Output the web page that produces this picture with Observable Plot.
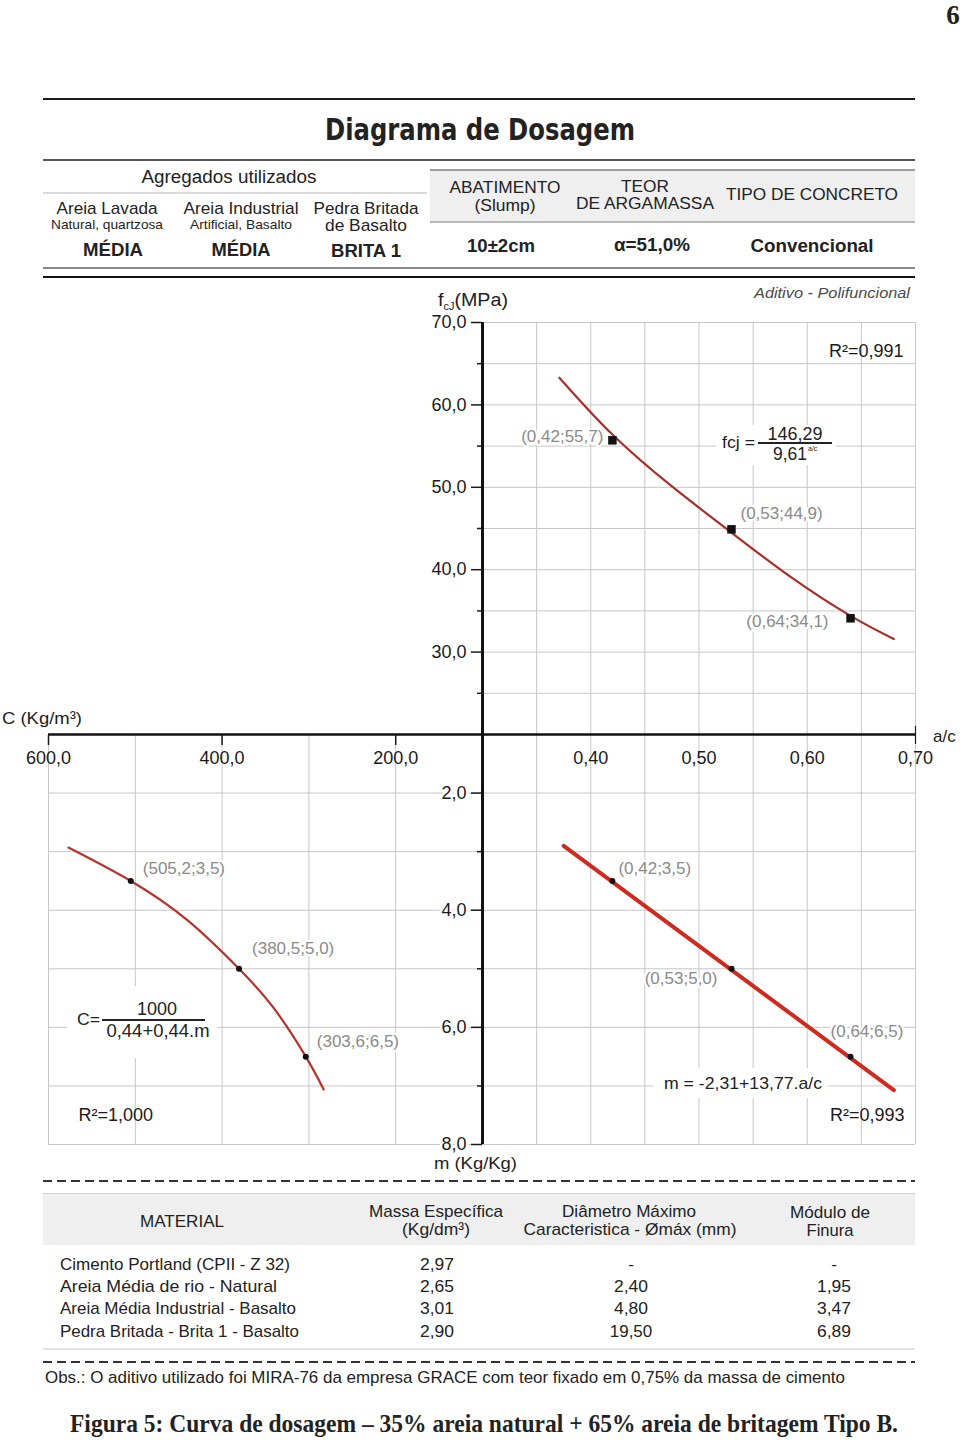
<!DOCTYPE html>
<html><head><meta charset="utf-8">
<script src="https://cdn.jsdelivr.net/npm/d3@7"></script>
<script src="https://cdn.jsdelivr.net/npm/@observablehq/plot@0.6"></script>
<style>
body{margin:0;background:#fff;}
#page{position:relative;width:960px;height:1440px;overflow:hidden;background:#fff;color:#222;}
.t{position:absolute;white-space:nowrap;line-height:1;}
</style></head><body><div id="page"></div><script>
// ---------------- data ----------------
const acTicks = [0.40, 0.50, 0.60, 0.70];
const acGrid = [0.35, 0.40, 0.45, 0.50, 0.55, 0.60, 0.65, 0.70];
const fcjMajor = [30, 40, 50, 60, 70];
const fcjMinor = [25, 35, 45, 55, 65];
const fcjGrid = [25, 30, 35, 40, 45, 50, 55, 60, 65, 70];
const mMajor = [2, 4, 6, 8];
const mMinor = [3, 5, 7];
const mGrid = [2, 3, 4, 5, 6, 7, 8];
const cTicks = [600, 400, 200];
const cGrid = [600, 500, 400, 300, 200];

const fcjPoints = [{ac: 0.42, fcj: 55.7}, {ac: 0.53, fcj: 44.9}, {ac: 0.64, fcj: 34.1}];
const fcjCurve = [
  {ac: 0.371, fcj: 63.3}, {ac: 0.42, fcj: 56.4}, {ac: 0.475, fcj: 50.1}, {ac: 0.53, fcj: 44.5},
  {ac: 0.585, fcj: 39.1}, {ac: 0.64, fcj: 34.4}, {ac: 0.68, fcj: 31.6}
];
const mPoints = [{ac: 0.42, m: 3.5}, {ac: 0.53, m: 5.0}, {ac: 0.64, m: 6.5}];
const mLine = [{ac: 0.375, m: 2.9}, {ac: 0.68, m: 7.07}];
const cPoints = [{c: 505.2, m: 3.5}, {c: 380.5, m: 5.0}, {c: 303.6, m: 6.5}];
const cCurve = [
  {c: 577, m: 2.93}, {c: 505.2, m: 3.5}, {c: 440, m: 4.17}, {c: 380.5, m: 5.0},
  {c: 340, m: 5.68}, {c: 303.6, m: 6.5}, {c: 283, m: 7.06}
];
const r2Labels = ["R²=0,991", "R²=0,993", "R²=1,000"];

const materials = ["Cimento Portland (CPII - Z 32)", "Areia Média de rio   - Natural", "Areia Média Industrial - Basalto", "Pedra Britada - Brita 1 - Basalto"];
const massa = ["2,97", "2,65", "3,01", "2,90"];
const diametro = ["-", "2,40", "4,80", "19,50"];
const finura = ["-", "1,95", "3,47", "6,89"];

// ---------------- helpers ----------------
const NARROW = '"Liberation Sans Narrow","Arial Narrow","Liberation Sans",Arial,sans-serif';
const SANS = '"Liberation Sans",Arial,Helvetica,sans-serif';
const SERIF = '"Liberation Serif","Times New Roman",serif';
const fmt1 = d => d.toFixed(1).replace(".", ",");
const fmt2 = d => d.toFixed(2).replace(".", ",");
const page = document.getElementById("page");

function txt(s, x, y, o = {}) {
  const el = document.createElement("div");
  el.className = "t";
  if (o.html) el.innerHTML = s; else el.textContent = s;
  el.style.left = x + "px"; el.style.top = y + "px";
  el.style.fontSize = (o.size || 16) + "px";
  el.style.fontFamily = o.font || NARROW;
  el.style.fontWeight = o.bold ? "bold" : "normal";
  if (o.italic) el.style.fontStyle = "italic";
  el.style.color = o.color || "#222";
  page.appendChild(el);
  const a = o.anchor || "middle";
  let sx = 1;
  if (o.w) sx = o.w / el.getBoundingClientRect().width;
  el.style.transformOrigin = a === "middle" ? "50% 50%" : a === "end" ? "100% 50%" : "0 50%";
  el.style.transform = `translate(${a === "middle" ? "-50%" : a === "end" ? "-100%" : "0"},-50%) scaleX(${sx})`;
  return el;
}
function box(x, y, w, h, st = {}) {
  const el = document.createElement("div");
  Object.assign(el.style, {position: "absolute", boxSizing: "border-box", left: x + "px", top: y + "px", width: w + "px", height: h + "px"}, st);
  page.appendChild(el);
  return el;
}
function hline(x1, x2, y, color, t) { return box(x1, y - t / 2, x2 - x1, t, {background: color}); }
function dline(x1, x2, y, color, t) {
  return box(x1, y - t / 2, x2 - x1, t, {background: `repeating-linear-gradient(90deg, ${color} 0 9px, transparent 9px 14px)`});
}
function place(svg, left, top) {
  svg.style.position = "absolute"; svg.style.left = left + "px"; svg.style.top = top + "px";
  page.appendChild(svg);
}
const plotStyle = {background: "transparent", overflow: "visible", fontFamily: SANS, fontSize: "18px", color: "#1a1a1a"};
const GRID = {stroke: "#c6c6c6", strokeOpacity: 1, strokeWidth: 1};
const PT = {fill: "#8a8a8a", fontSize: 17, stroke: "white", strokeWidth: 4, paintOrder: "stroke"};

// ---------------- header ----------------
txt("6", 953, 15, {font: SERIF, bold: true, size: 27});
hline(43, 915, 99, "#1a1a1a", 2.5);
txt("Diagrama de Dosagem", 480, 130, {font: '"DejaVu Sans Condensed","DejaVu Sans",' + NARROW, size: 30, bold: true, w: 310});
hline(43, 915, 160, "#555", 2.5);
txt("Agregados utilizados", 229, 177, {size: 18, w: 175});
hline(43, 427, 193, "#dadada", 2);
txt("Areia Lavada", 107, 208, {size: 17, w: 101});
txt("Natural, quartzosa", 107, 224, {size: 13, w: 112});
txt("MÉDIA", 113, 250, {size: 18, bold: true, w: 60});
txt("Areia Industrial", 241, 208, {size: 17, w: 115});
txt("Artificial, Basalto", 241, 224, {size: 13, w: 102});
txt("MÉDIA", 241, 250, {size: 18, bold: true, w: 59});
txt("Pedra Britada", 366, 208, {size: 17, w: 105});
txt("de Basalto", 366, 225, {size: 17, w: 82});
txt("BRITA 1", 366, 251, {size: 18, bold: true, w: 70});
box(430, 169, 485, 54, {background: "#efefef", borderTop: "2px solid #9c9c9c", borderBottom: "2px solid #b8b8b8"});
txt("ABATIMENTO", 505, 187, {size: 17, w: 111});
txt("(Slump)", 505, 205, {size: 17, w: 61});
txt("TEOR", 645, 186, {size: 17, w: 48});
txt("DE ARGAMASSA", 645, 203, {size: 17, w: 138});
txt("TIPO DE CONCRETO", 812, 194, {size: 17, w: 172});
txt("10±2cm", 501, 246, {size: 18, bold: true, w: 68});
txt("α=51,0%", 652, 245, {size: 18, bold: true, w: 76});
txt("Convencional", 812, 246, {size: 18, bold: true, w: 123});
hline(43, 915, 268, "#8a8a8a", 2);
hline(43, 915, 277, "#111", 2.5);

// ---------------- chart: bottom-left (C vs m) ----------------
const plotC = Plot.plot({
  width: 490, height: 490, marginLeft: 48, marginRight: 8, marginTop: 34, marginBottom: 46,
  x: {type: "linear", domain: [600, 100], axis: null},
  y: {domain: [1, 8], reverse: true, axis: null},
  style: plotStyle,
  marks: [
    Plot.gridX(cGrid, GRID),
    Plot.gridY(mGrid, GRID),
    Plot.text(cTicks, {x: d => d, frameAnchor: "top", lineAnchor: "middle", dy: 24, text: fmt1, fontSize: 18, fill: "#1a1a1a"}),
    Plot.ruleY([1], {stroke: "#111", strokeWidth: 2.5}),
    Plot.axisX(cTicks, {anchor: "top", tickSize: 10, dy: 10, tickFormat: () => "", label: null, strokeWidth: 1.5}),
    Plot.text([cPoints[0]], {x: "c", y: "m", text: d => `(${fmt1(d.c)};${fmt1(d.m)})`, textAnchor: "start", dx: 12, dy: -12, ...PT}),
    Plot.text([cPoints[1]], {x: "c", y: "m", text: d => `(${fmt1(d.c)};${fmt1(d.m)})`, textAnchor: "start", dx: 13, dy: -20, ...PT}),
    Plot.text([cPoints[2]], {x: "c", y: "m", text: d => `(${fmt1(d.c)};${fmt1(d.m)})`, textAnchor: "start", dx: 11, dy: -15, ...PT}),
    Plot.line(cCurve, {x: "c", y: "m", curve: "natural", stroke: "#b8322b", strokeWidth: 2.2}),
    Plot.dot(cPoints, {x: "c", y: "m", r: 3, fill: "#111"}),
    Plot.text([r2Labels[2]], {frameAnchor: "bottom-left", lineAnchor: "middle", text: d => d, textAnchor: "start", dx: 30, dy: -29, fontSize: 18, fill: "#1a1a1a"})
  ]
});
place(plotC, 0, 700);

// ---------------- chart: top-right (fcj vs a/c) ----------------
const plotA = Plot.plot({
  width: 578, height: 460, marginLeft: 100, marginRight: 45, marginTop: 42, marginBottom: 6,
  x: {type: "linear", domain: [0.3, 0.7], axis: null},
  y: {domain: [20, 70], axis: null},
  style: plotStyle,
  marks: [
    Plot.gridX(acGrid, GRID),
    Plot.gridY(fcjGrid, GRID),
    Plot.ruleX([0.3], {stroke: "#111", strokeWidth: 3}),
    Plot.axisY(fcjMajor, {tickSize: 11, tickPadding: 5, tickFormat: fmt1, fontSize: 18, label: null, strokeWidth: 1.5}),
    Plot.axisY(fcjMinor, {tickSize: 5, tickFormat: () => "", label: null, strokeWidth: 1.5}),
    Plot.text([fcjPoints[0]], {x: "ac", y: "fcj", text: d => `(${fmt2(d.ac)};${fmt1(d.fcj)})`, textAnchor: "end", dx: -9, dy: -4, ...PT}),
    Plot.text([fcjPoints[1]], {x: "ac", y: "fcj", text: d => `(${fmt2(d.ac)};${fmt1(d.fcj)})`, textAnchor: "start", dx: 9, dy: -16, ...PT}),
    Plot.text([fcjPoints[2]], {x: "ac", y: "fcj", text: d => `(${fmt2(d.ac)};${fmt1(d.fcj)})`, textAnchor: "end", dx: -22, dy: 3, ...PT}),
    Plot.line(fcjCurve, {x: "ac", y: "fcj", curve: "natural", stroke: "#a82e2a", strokeWidth: 2.2}),
    Plot.dot(fcjPoints, {x: "ac", y: "fcj", symbol: "square", r: 4.8, fill: "#111"}),
    Plot.text([r2Labels[0]], {frameAnchor: "top-right", lineAnchor: "middle", text: d => d, textAnchor: "end", dx: -12, dy: 29, fontSize: 18, fill: "#1a1a1a"})
  ]
});
place(plotA, 382, 280);

// ---------------- chart: bottom-right (m vs a/c) ----------------
const plotB = Plot.plot({
  width: 578, height: 490, marginLeft: 100, marginRight: 45, marginTop: 34, marginBottom: 46,
  x: {type: "linear", domain: [0.3, 0.7], axis: null},
  y: {domain: [1, 8], reverse: true, axis: null},
  style: plotStyle,
  marks: [
    Plot.gridX(acGrid, GRID),
    Plot.gridY(mGrid, GRID),
    Plot.text(acTicks, {x: d => d, frameAnchor: "top", lineAnchor: "middle", dy: 24, text: fmt2, fontSize: 18, fill: "#1a1a1a"}),
    Plot.ruleY([1], {stroke: "#111", strokeWidth: 2.5}),
    Plot.ruleX([0.3], {stroke: "#111", strokeWidth: 3}),
    Plot.axisX([acTicks[acTicks.length - 1]], {anchor: "top", tickSize: 18, dy: 9, tickFormat: () => "", label: null, strokeWidth: 1.2}),
    Plot.axisY(mMajor, {tickSize: 11, tickFormat: () => "", label: null, strokeWidth: 1.5}),
    Plot.axisY(mMinor, {tickSize: 5, tickFormat: () => "", label: null, strokeWidth: 1.5}),
    Plot.text(mMajor, {y: d => d, frameAnchor: "left", dx: -16, textAnchor: "end", text: fmt1, fontSize: 18, fill: "#1a1a1a", stroke: "white", strokeWidth: 5, paintOrder: "stroke"}),
    Plot.text([mPoints[0]], {x: "ac", y: "m", text: d => `(${fmt2(d.ac)};${fmt1(d.m)})`, textAnchor: "start", dx: 6, dy: -12, ...PT}),
    Plot.text([mPoints[1]], {x: "ac", y: "m", text: d => `(${fmt2(d.ac)};${fmt1(d.m)})`, textAnchor: "end", dx: -14, dy: 10, ...PT}),
    Plot.text([mPoints[2]], {x: "ac", y: "m", text: d => `(${fmt2(d.ac)};${fmt1(d.m)})`, textAnchor: "start", dx: -20, dy: -25, ...PT}),
    Plot.line(mLine, {x: "ac", y: "m", stroke: "#cf2a20", strokeWidth: 4}),
    Plot.dot(mPoints, {x: "ac", y: "m", r: 3, fill: "#111"}),
    Plot.text([r2Labels[1]], {frameAnchor: "bottom-right", lineAnchor: "middle", text: d => d, textAnchor: "end", dx: -11, dy: -29, fontSize: 18, fill: "#1a1a1a"})
  ]
});
place(plotB, 382, 700);

// ---------------- chart annotations ----------------
txt('f<span style="font-size:10px;position:relative;top:4px">cJ</span>(MPa)', 438, 300, {html: true, font: SANS, size: 18, anchor: "start", w: 70});
txt("Aditivo - Polifuncional", 832, 292, {font: SANS, size: 15, italic: true, color: "#4a4a4a", w: 156});
txt("C (Kg/m³)", 2, 718, {font: SANS, size: 17, anchor: "start", w: 80});
txt("a/c", 933, 736, {font: SANS, size: 17, anchor: "start"});
txt("m (Kg/Kg)", 434, 1163, {font: SANS, size: 17, anchor: "start", w: 83});

// fcj equation
box(716, 425, 120, 40, {background: "#fff"});
txt("fcj =", 722, 442, {font: SANS, size: 17, anchor: "start", w: 33});
txt("146,29", 795, 434, {font: SANS, size: 18, w: 55});
hline(758, 832, 443, "#222", 1.2);
txt("9,61", 790, 454, {font: SANS, size: 18, w: 34});
txt("a/c", 808, 448, {font: SANS, size: 7, anchor: "start"});

// C equation
box(67, 986, 151, 72, {background: "#fff"});
txt("C=", 77, 1019, {font: SANS, size: 17, anchor: "start", w: 23});
txt("1000", 157, 1009, {font: SANS, size: 18, w: 40});
hline(102, 205, 1020, "#222", 1.2);
txt("0,44+0,44.m", 158, 1031, {font: SANS, size: 18, w: 103});

// m equation
box(653, 1068, 175, 30, {background: "#fff"});
txt("m = -2,31+13,77.a/c", 664, 1083, {font: SANS, size: 17, anchor: "start", w: 158});

// ---------------- materials table ----------------
dline(43, 915, 1181, "#333", 2);
box(43, 1193, 872, 52, {background: "#efefef", borderTop: "1px solid #d2d2d2"});
txt("MATERIAL", 182, 1221, {size: 17, w: 84});
txt("Massa Específica", 436, 1211, {size: 17, w: 134});
txt("(Kg/dm³)", 436, 1229, {size: 17, w: 68});
txt("Diâmetro Máximo", 629, 1211, {size: 17, w: 134});
txt("Caracteristica - Ømáx (mm)", 630, 1229, {size: 17, w: 213});
txt("Módulo de", 830, 1212, {size: 17, w: 80});
txt("Finura", 830, 1230, {size: 17, w: 47});
const rowY = [1264, 1286, 1308, 1331];
const rowW = [230, 217, 236, 239];
materials.forEach((m, i) => {
  txt(m, 60, rowY[i], {size: 17, anchor: "start", w: rowW[i]});
  txt(massa[i], 437, rowY[i], {size: 17, w: 34});
  txt(diametro[i], 631, rowY[i], {size: 17, w: diametro[i].length > 1 ? 8.5 * diametro[i].length : undefined});
  txt(finura[i], 834, rowY[i], {size: 17, w: finura[i].length > 1 ? 34 : undefined});
});
hline(43, 915, 1349, "#e2e2e2", 1.5);
dline(43, 915, 1362, "#333", 2);
txt("Obs.: O aditivo utilizado foi MIRA-76 da empresa GRACE com teor fixado em 0,75% da massa de cimento", 45, 1377, {size: 17, anchor: "start", w: 800});

// caption
txt("Figura 5: Curva de dosagem – 35% areia natural + 65% areia de britagem Tipo B.", 484, 1424, {font: SERIF, bold: true, size: 26, w: 828});
</script></body></html>
